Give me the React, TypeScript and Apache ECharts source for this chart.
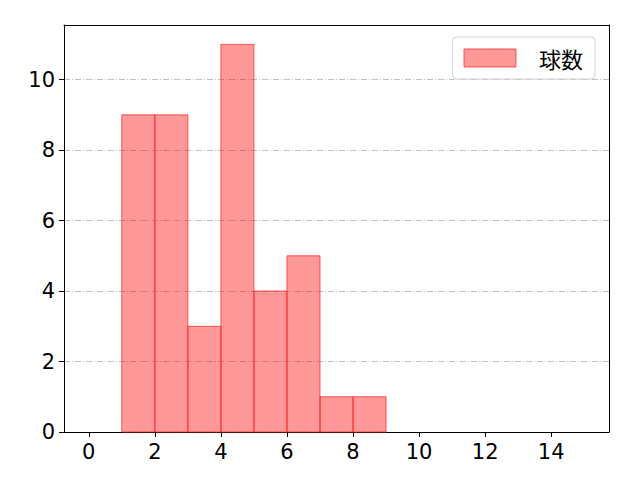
import { useEffect, useRef } from 'react'
import * as echarts from 'echarts'

// 投球数ヒストグラム
const binStarts = [1, 2, 3, 4, 5, 6, 7, 8]
const binEnds = [2, 3, 4, 5, 6, 7, 8, 9]
const counts = [9, 9, 3, 11, 4, 5, 1, 1]
const xTicks = [0, 2, 4, 6, 8, 10, 12, 14]
const seriesName = '球数'

const FONT = '"Noto Sans CJK JP", "DejaVu Sans", sans-serif'
const NUM_FONT = '"DejaVu Sans", sans-serif'
const FILL = 'rgba(255, 0, 0, 0.4)'
const EDGE = 'rgba(255, 40, 40, 0.75)'
const frameAxis = {
  axisLine: { show: true, onZero: false, lineStyle: { color: '#000', width: 1 } },
  axisTick: { show: false },
  axisLabel: { show: false },
  splitLine: { show: false }
}

export default function App() {
  const chartRef = useRef<HTMLDivElement>(null)

  useEffect(() => {
    if (!chartRef.current) return
    document.body.style.margin = '0'
    const chart = echarts.init(chartRef.current, null, { renderer: 'svg' })

    const option: echarts.EChartsOption = {
      animation: false,
      textStyle: { fontFamily: FONT },
      grid: { left: 64, right: 31, top: 25, bottom: 48 },
      legend: {
        right: 45,
        top: 37,
        padding: [10, 12, 10, 11],
        borderColor: '#d4d4d4',
        borderWidth: 1,
        borderRadius: 4,
        itemWidth: 52,
        itemHeight: 18,
        textStyle: { fontSize: 22, color: '#000', padding: [0, 0, 0, 18], fontFamily: FONT },
        data: [
          {
            name: seriesName,
            icon: 'rect',
            itemStyle: { color: FILL, borderColor: EDGE, borderWidth: 1 }
          }
        ]
      },
      xAxis: [
        {
          type: 'value',
          min: -0.75,
          max: 15.75,
          axisLine: { show: true, onZero: false, lineStyle: { color: '#000' } },
          axisTick: { show: true, customValues: xTicks, length: 5, lineStyle: { color: '#000' } },
          axisLabel: { customValues: xTicks, fontSize: 21, color: '#000', margin: 9, fontFamily: NUM_FONT },
          splitLine: { show: false }
        },
        { type: 'value', position: 'top', min: -0.75, max: 15.75, ...frameAxis }
      ],
      yAxis: [
        {
          type: 'value',
          min: 0,
          max: 11.55,
          interval: 2,
          axisLine: { show: true, onZero: false, lineStyle: { color: '#000' } },
          axisTick: { show: true, length: 5, lineStyle: { color: '#000' } },
          axisLabel: { fontSize: 21, color: '#000', margin: 9, showMaxLabel: false, fontFamily: NUM_FONT },
          splitLine: {
            show: true,
            lineStyle: { color: '#b0b0b0', width: 0.8, type: [6, 2, 1, 2] }
          }
        },
        { type: 'value', position: 'right', min: 0, max: 11.55, ...frameAxis }
      ],
      series: [
        {
          name: seriesName,
          type: 'custom',
          data: counts.map((c, i) => [binStarts[i], binEnds[i], c]),
          encode: { x: [0, 1], y: 2 },
          renderItem: (params: any, api: any) => {
            const p0 = api.coord([api.value(0), 0])
            const p1 = api.coord([api.value(1), api.value(2)])
            return {
              type: 'rect',
              shape: { x: p0[0], y: p1[1], width: p1[0] - p0[0], height: p0[1] - p1[1] },
              style: { fill: FILL, stroke: EDGE, lineWidth: 1 }
            }
          }
        }
      ]
    }

    chart.setOption(option)
    return () => {
      chart.dispose()
    }
  }, [])

  return <div ref={chartRef} style={{ width: 640, height: 480 }} />
}
